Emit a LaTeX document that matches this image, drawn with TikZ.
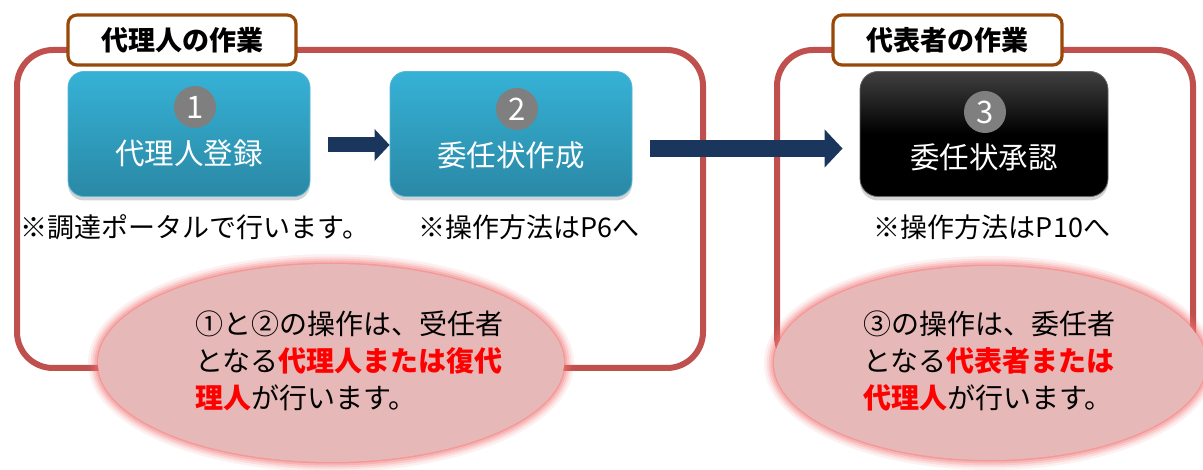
\documentclass[tikz,border=0pt]{standalone}
\usepackage{fontspec}
\setmainfont{Noto Sans CJK JP}
\usetikzlibrary{shapes.geometric,arrows.meta,shadows,calc}
\definecolor{framered}{HTML}{C0504D}
\definecolor{titlebrown}{HTML}{984807}
\definecolor{arrowblue}{HTML}{1B365D}
\definecolor{boxtop}{HTML}{36B2D6}
\definecolor{boxbot}{HTML}{2A88A5}
\definecolor{boxrim}{HTML}{55B8D6}
\definecolor{numgray}{HTML}{7F7F7F}
\definecolor{ellfill}{HTML}{E6B8B7}
\definecolor{glowc}{HTML}{F07070}
\definecolor{hlred}{HTML}{FF0000}
\newcommand{\redbf}[1]{{\color{hlred}\bfseries #1}}
\tikzset{
  frame/.style={draw=framered, line width=6, rounded corners=36},
  titlebox/.style={draw=titlebrown, line width=3.2, fill=white, rounded corners=9,
    minimum height=50, inner sep=0, font=\fontsize{27}{30}\selectfont\bfseries},
  bluebox/.style={rounded corners=16, minimum width=242, minimum height=125, inner sep=0,
    top color=boxtop, bottom color=boxbot, draw=boxrim, line width=0.8,
    drop shadow={opacity=0.35, shadow xshift=0pt, shadow yshift=-4pt}},
  blackbox/.style={rounded corners=18, minimum width=248, minimum height=125, inner sep=0,
    top color=black!75, bottom color=black, middle color=black, draw=black!60, line width=0.8,
    drop shadow={opacity=0.35, shadow xshift=0pt, shadow yshift=-4pt}},
  numcirc/.style={circle, fill=numgray, minimum size=42, inner sep=0, text=white,
    font=\fontsize{31}{31}\selectfont},
  boxlabel/.style={text=white, font=\fontsize{29.5}{30}\selectfont, inner sep=0},
  note/.style={font=\fontsize{27}{30}\selectfont, inner sep=0},
  flow/.style={arrowblue, line width=17, -{Triangle[length=18pt,width=37pt]}},
  smallflow/.style={arrowblue, line width=15, -{Triangle[length=15pt,width=31pt]}},
  bubble/.style={ellipse, fill=ellfill, inner sep=0},
  bubbletext/.style={align=left, font=\fontsize{28}{37}\selectfont, inner sep=0, anchor=west},
}
\begin{document}
\begin{tikzpicture}[x=1pt,y=-1pt]
\useasboundingbox (0,0) rectangle (1203,470);
% frames
\draw[frame] (17,50) rectangle (703,368);
\draw[frame] (777,50) rectangle (1193,372);
% title boxes
\node[titlebox, minimum width=228] (h1) at (182,40) {代理人の作業};
\node[titlebox, minimum width=229] (h2) at (947.5,40) {代表者の作業};
% step boxes
\node[bluebox] (b1) at (189,134) {};
\node[bluebox] (b2) at (511,134) {};
\node[blackbox] (b3) at (984,134) {};
\node[numcirc] (n1) at (195,107) {1};
\node[numcirc] (n2) at (517,109) {2};
\node[numcirc] (n3) at (985,112) {3};
\node[boxlabel] (l1) at (189,153) {代理人登録};
\node[boxlabel] (l2) at (511,155) {委任状作成};
\node[boxlabel] (l3) at (984,157) {委任状承認};
% arrows
\draw[smallflow] ($(b1.east)+(18,11)$) -- ($(b2.west)+(0,11)$);
\draw[flow] ($(b2.east)+(18,14.5)$) -- ($(b3.west)+(-17,14.5)$);
% notes
\node[note] (m1) at (195,227) {※調達ポータルで行います。};
\node[note] (m2) at (529,227) {※操作方法はP6へ};
\node[note] (m3) at (992,227) {※操作方法はP10へ};
% bubbles with soft glow
\foreach \w/\o in {20/0.10,15/0.14,11/0.18,7/0.25,3/0.4}{
  \draw[glowc, line width=\w, opacity=\o] (331,363) ellipse[x radius=233, y radius=99];
  \draw[glowc, line width=\w, opacity=\o] (990,363) ellipse[x radius=216, y radius=97];
}
\node[bubble, minimum width=466, minimum height=198] (e1) at (331,363) {};
\node[bubble, minimum width=432, minimum height=194] (e2) at (990,363) {};
\node[bubbletext] (t1) at (195,361) {①と②の操作は、受任者\\となる\redbf{代理人または復代}\\\redbf{理人}が行います。};
\node[bubbletext] (t2) at (863,361) {③の操作は、委任者\\となる\redbf{代表者または}\\\redbf{代理人}が行います。};
\end{tikzpicture}
\end{document}
